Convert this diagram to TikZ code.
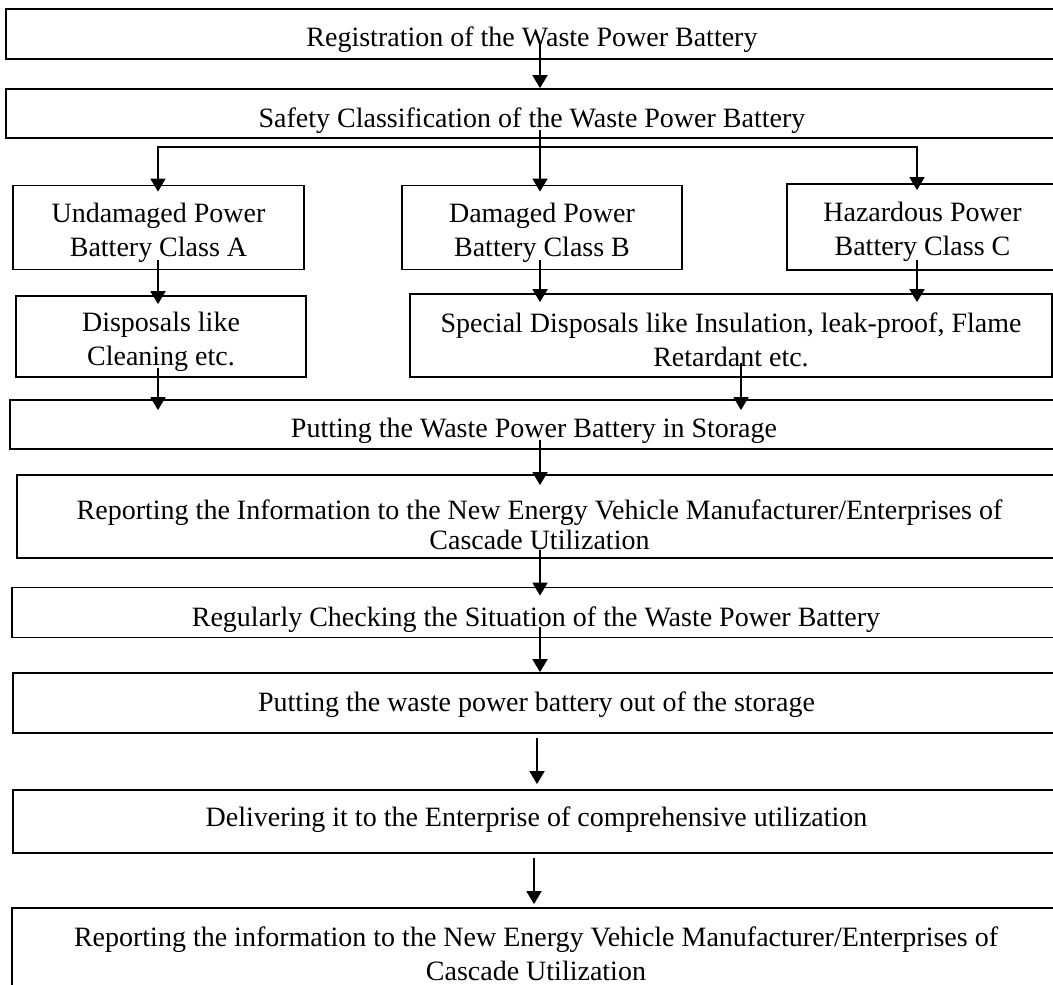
\documentclass[tikz,border=0pt]{standalone}
\usepackage{fontspec}
\setmainfont{Liberation Serif}
\usetikzlibrary{arrows.meta,calc}
\begin{document}
\begin{tikzpicture}[x=1pt,y=-1pt,
  box/.style={draw, line width=1.8pt, inner sep=0pt},
  txt/.style={inner sep=0pt, align=center, font=\fontsize{28}{34}\selectfont},
  arr/.style={line width=1.8pt, -{Triangle[length=13pt,width=15pt]}}]
\useasboundingbox (0,0) rectangle (1053,985);
\clip (0,0) rectangle (1053,985);

% boxes
\node[box, minimum width=1052, minimum height=50] (b1) at (532,34) {};
\node[box, minimum width=1052, minimum height=49] (b2) at (532,113.5) {};
\node[box, minimum width=291, minimum height=84] (bA) at (158.5,227.5) {};
\node[box, minimum width=280, minimum height=84] (bB) at (542,227.5) {};
\node[box, minimum width=271, minimum height=86] (bC) at (922.5,227) {};
\node[box, minimum width=290, minimum height=81] (bD) at (161,336.5) {};
\node[box, minimum width=642, minimum height=83] (bS) at (731,335.5) {};
\node[box, minimum width=1048, minimum height=49] (st) at (534,424.5) {};
\node[box, minimum width=1045, minimum height=83] (r1) at (539.5,516.5) {};
\node[box, minimum width=1048, minimum height=50] (rg) at (536,612.5) {};
\node[box, minimum width=1047, minimum height=60] (out) at (536.5,703) {};
\node[box, minimum width=1047, minimum height=63] (dl) at (536.5,821.5) {};
\node[box, minimum width=1048, minimum height=86] (r2) at (536,951) {};

% texts
\node[txt] (t1) at ($(b1.center)+(0,6)$) {Registration of the Waste Power Battery};
\node[txt] (t2) at ($(b2.center)+(0,7)$) {Safety Classification of the Waste Power Battery};
\node[txt] (tA) at ($(bA.center)+(0,5.5)$) {Undamaged Power\\Battery Class A};
\node[txt] (tB) at ($(bB.center)+(0,5.5)$) {Damaged Power\\Battery Class B};
\node[txt] (tC) at ($(bC.center)+(0,5)$) {Hazardous Power\\Battery Class C};
\node[txt] (tD) at ($(bD.center)+(0,5.5)$) {Disposals like\\Cleaning etc.};
\node[txt] (tS) at ($(bS.center)+(0,4.5)$) {Special Disposals like Insulation, leak-proof, Flame\\Retardant etc.};
\node[txt] (tst) at ($(st.center)+(0,6.5)$) {Putting the Waste Power Battery in Storage};
\node[txt, font=\fontsize{28}{30}\selectfont] (tr1) at ($(r1.center)+(0,8)$) {Reporting the Information to the New Energy Vehicle Manufacturer/Enterprises of\\Cascade Utilization};
\node[txt] (trg) at ($(rg.center)+(0,7.5)$) {Regularly Checking the Situation of the Waste Power Battery};
\node[txt] (tout) at ($(out.center)+(0,2)$) {Putting the waste power battery out of the storage};
\node[txt] (tdl) at ($(dl.center)+(0,-1.5)$) {Delivering it to the Enterprise of comprehensive utilization};
\node[txt] (tr2) at ($(r2.center)+(0,3)$) {Reporting the information to the New Energy Vehicle Manufacturer/Enterprises of\\Cascade Utilization};

% connector start points
\coordinate (s1) at (540,43);
\coordinate (s2) at (540,130);
\coordinate (br) at (540,147);
\coordinate (sA) at (158,260);
\coordinate (sB) at (540,260);
\coordinate (sC) at (917,260);
\coordinate (sD) at (158,368);
\coordinate (sS) at (741,363);
\coordinate (sst) at (540,440);
\coordinate (sr1) at (540,550);
\coordinate (srg) at (540,627);
\coordinate (so) at (537,738);
\coordinate (sd) at (534,858);

\draw[arr] (s1) -- (s1 |- b2.north);
\draw[arr, shorten >=-7pt] (s2) -- (s2 |- bB.north);
\draw[arr, shorten >=-7pt] (br) -| (sA |- bA.north);
\draw[arr, shorten >=-7pt] (br) -| (sC |- bC.north);
\draw[arr, shorten >=-9pt] (sA) -- (sA |- bD.north);
\draw[arr, shorten >=-9pt] (sB) -- (sB |- bS.north);
\draw[arr, shorten >=-9pt] (sC) -- (sC |- bS.north);
\draw[arr, shorten >=-11pt] (sD) -- (sD |- st.north);
\draw[arr, shorten >=-11pt] (sS) -- (sS |- st.north);
\draw[arr, shorten >=-11pt] (sst) -- (sst |- r1.north);
\draw[arr, shorten >=-9pt] (sr1) -- (sr1 |- rg.north);
\draw[arr] (srg) -- (srg |- out.north);
\draw[arr, shorten >=5pt] (so) -- (so |- dl.north);
\draw[arr, shorten >=3pt] (sd) -- (sd |- r2.north);
\end{tikzpicture}
\end{document}
